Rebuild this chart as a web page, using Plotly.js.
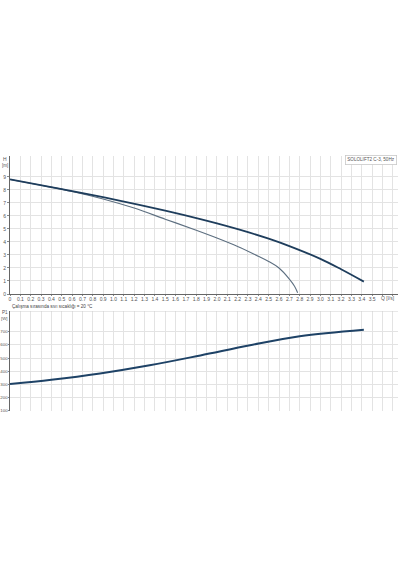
<!DOCTYPE html>
<html><head><meta charset="utf-8">
<script src="https://cdn.plot.ly/plotly-3.0.1.min.js"></script>
<style>body{margin:0;background:#fff}#c{width:400px;height:570px}</style>
</head><body><div id="c"></div>
<script>
// Q-H curves
const qDark = [0, 0.5, 1.0, 1.5, 1.84, 2.0, 2.3, 2.5, 2.7, 3.0, 3.2, 3.42];
const hDark = [8.8, 8.05, 7.27, 6.4, 5.75, 5.42, 4.75, 4.25, 3.68, 2.7, 1.9, 0.95];
const qLight = [0, 0.3, 0.6, 0.9, 1.2, 1.5, 1.8, 2.0, 2.2, 2.4, 2.5, 2.6, 2.7, 2.75, 2.78];
const hLight = [8.8, 8.35, 7.88, 7.3, 6.6, 5.75, 4.9, 4.3, 3.65, 2.9, 2.5, 2.0, 1.15, 0.6, 0.1];
// Q-P1 curve
const qPow = [0, 0.4, 0.87, 1.35, 1.84, 2.32, 2.8, 3.42];
const pPow = [303, 335, 383, 445, 520, 597, 665, 715];
// ticks
const xTickVals = [0,0.1,0.2,0.3,0.4,0.5,0.6,0.7,0.8,0.9,1.0,1.1,1.2,1.3,1.4,1.5,1.6,1.7,1.8,1.9,2.0,2.1,2.2,2.3,2.4,2.5,2.6,2.7,2.8,2.9,3.0,3.1,3.2,3.3,3.4,3.5,3.6,3.7];
const xTickText = ["0","0.1","0.2","0.3","0.4","0.5","0.6","0.7","0.8","0.9","1.0","1.1","1.2","1.3","1.4","1.5","1.6","1.7","1.8","1.9","2.0","2.1","2.2","2.3","2.4","2.5","2.6","2.7","2.8","2.9","3.0","3.1","3.2","3.3","3.4","3.5","",""];
const hTicks = [0,1,2,3,4,5,6,7,8,9];
const pTicks = [100,200,300,400,500,600,700];
const xUnitLabel = "Q [l/s]";
const legendText = "SOLOLIFT2 C-3, 50Hz";
const noteText = "Çalışma sırasında sıvı sıcaklığı = 20 °C";

const F = "Liberation Sans, Arial, sans-serif";
const grid = "#e3e3e3";
const tickFont = {family: F, size: 5, color: "#555"};

const traces = [
  {x: qLight, y: hLight, mode: "lines", line: {color: "#5d6f80", width: 1.1, shape: "spline"}, xaxis: "x", yaxis: "y", hoverinfo: "skip"},
  {x: qDark, y: hDark, mode: "lines", line: {color: "#1e3d5c", width: 1.8, shape: "spline"}, xaxis: "x", yaxis: "y", hoverinfo: "skip"},
  {x: qPow, y: pPow, mode: "lines", line: {color: "#1e4266", width: 2, shape: "spline"}, xaxis: "x2", yaxis: "y2", hoverinfo: "skip"}
];

const layout = {
  width: 400, height: 570,
  margin: {l: 10, r: 2, t: 0, b: 0},
  paper_bgcolor: "#fff", plot_bgcolor: "#fff",
  showlegend: false,
  xaxis: {domain: [0, 1], range: [0, 3.75], tickvals: xTickVals, ticktext: xTickText,
    showgrid: true, gridcolor: grid, gridwidth: 1, zeroline: false,
    showline: true, linecolor: "#666", linewidth: 1, ticks: "outside", ticklen: 1, tickcolor: "#888",
    ticklabelstandoff: -1, tickfont: tickFont, tickangle: 0, anchor: "y"},
  yaxis: {domain: [0.4842, 0.7263], range: [0, 10.6], tickvals: hTicks,
    showgrid: true, gridcolor: grid, zeroline: false,
    showline: true, linecolor: "#666", linewidth: 1.5, ticks: "outside", ticklen: 1.5, tickcolor: "#888",
    ticklabelstandoff: 0, tickfont: tickFont, anchor: "x"},
  xaxis2: {domain: [0, 1], range: [0, 3.75], tickvals: xTickVals, showticklabels: false,
    showgrid: true, gridcolor: grid, zeroline: false, showline: false, anchor: "y2"},
  yaxis2: {domain: [0.2789, 0.4544], range: [98, 857], tickvals: pTicks,
    showgrid: true, gridcolor: grid, zeroline: false,
    showline: true, linecolor: "#666", linewidth: 1.5, ticks: "outside", ticklen: 1, tickcolor: "#888",
    ticklabelstandoff: -1, tickfont: {family: F, size: 4.4, color: "#555"}, anchor: "x2"},
  shapes: [
    {type: "line", xref: "x2", yref: "y2", x0: 0, x1: 3.75, y0: 857, y1: 857, line: {color: "#d0d0d0", width: 1}}
  ],
  annotations: [
    {text: "H", xref: "paper", yref: "y", x: -0.013, y: 10.35, showarrow: false, xanchor: "center", yanchor: "middle", font: {family: F, size: 5, color: "#555"}},
    {text: "[m]", xref: "paper", yref: "y", x: -0.013, y: 9.9, showarrow: false, xanchor: "center", yanchor: "middle", font: {family: F, size: 4.6, color: "#555"}},
    {text: "P1", xref: "paper", yref: "y2", x: -0.013, y: 845, showarrow: false, xanchor: "center", yanchor: "middle", font: {family: F, size: 4.6, color: "#555"}},
    {text: "[W]", xref: "paper", yref: "y2", x: -0.013, y: 802, showarrow: false, xanchor: "center", yanchor: "middle", font: {family: F, size: 4.4, color: "#555"}},
    {text: xUnitLabel, xref: "x", yref: "paper", x: 3.74, y: 1 - 297.5/570, showarrow: false, xanchor: "right", yanchor: "middle", font: {family: F, size: 5, color: "#555"}},
    {text: noteText, xref: "paper", yref: "paper", x: 0.0, y: 1 - 306.5/570, showarrow: false, xanchor: "left", yanchor: "middle", font: {family: F, size: 4.6, color: "#444"}},
    {text: legendText, xref: "paper", yref: "paper", x: 0.997, y: 1 - 160/570, showarrow: false, xanchor: "right", yanchor: "middle",
      font: {family: F, size: 4.6, color: "#555"}, bgcolor: "#fff", bordercolor: "#c8c8c8", borderwidth: 0.8, borderpad: 1.5}
  ]
};
Plotly.newPlot("c", traces, layout, {staticPlot: true, displayModeBar: false});
</script></body></html>
